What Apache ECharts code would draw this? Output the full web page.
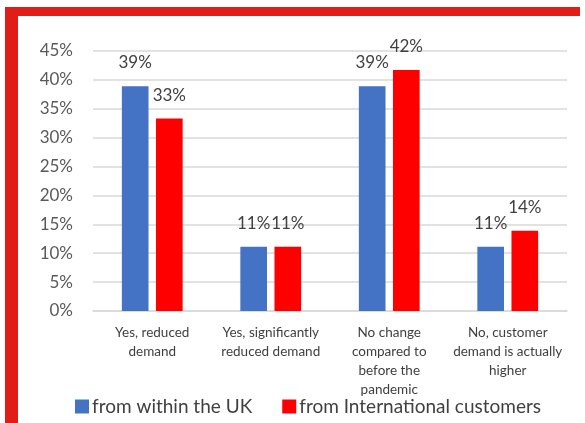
<!DOCTYPE html>
<html>
<head>
<meta charset="utf-8">
<script src="https://cdn.jsdelivr.net/npm/echarts@6/dist/echarts.min.js"></script>
<style>
  html, body { margin: 0; padding: 0; background: #fff; }
  #main { width: 585px; height: 423px; }
</style>
</head>
<body>
<div id="main"></div>
<script>
// data
var categories = [
  "Yes, reduced\ndemand",
  "Yes, significantly\nreduced demand",
  "No change\ncompared to\nbefore the\npandemic",
  "No, customer\ndemand is actually\nhigher"
];
var seriesNames = ["from within the UK", "from International customers"];
var ukValues = [38.9, 11.1, 38.9, 11.1];
var intlValues = [33.3, 11.1, 41.7, 13.9];
var yTicks = [0, 5, 10, 15, 20, 25, 30, 35, 40, 45];

var myChart = echarts.init(document.getElementById("main"));
var font = "Lato, 'Open Sans', sans-serif";

function barSeries(name, data, color) {
  return {
    name: name,
    type: "bar",
    data: data,
    barWidth: "22.5%",
    barGap: "28%",
    itemStyle: { color: color },
    label: {
      show: true,
      position: "top",
      distance: 15,
      fontFamily: font,
      fontSize: 17,
      color: "#404040",
      formatter: function (p) { return Math.round(p.value) + "%"; }
    }
  };
}

var option = {
  backgroundColor: "#ffffff",
  animation: false,
  graphic: [
    { type: "rect", shape: { x: 5, y: 7, width: 575, height: 9 }, style: { fill: "#e11d17" } },
    { type: "rect", shape: { x: 5, y: 7, width: 13, height: 416 }, style: { fill: "#e11d17" } }
  ],
  grid: { left: 93, right: 18, top: 51, bottom: 112 },
  legend: {
    data: seriesNames,
    top: 397,
    left: 75,
    padding: 0,
    itemWidth: 14,
    itemHeight: 14,
    itemGap: 30,
    icon: "rect",
    textStyle: { fontFamily: font, fontSize: 19, color: "#404040", padding: [0, 0, 0, -2] }
  },
  xAxis: {
    type: "category",
    data: categories,
    axisTick: { show: false },
    axisLine: { lineStyle: { color: "#d9d9d9", width: 1.5 } },
    axisLabel: {
      interval: 0,
      margin: 12,
      fontFamily: font,
      fontSize: 13.5,
      lineHeight: 19,
      color: "#404040"
    }
  },
  yAxis: {
    type: "value",
    min: yTicks[0],
    max: yTicks[yTicks.length - 1],
    interval: 5,
    axisLine: { show: false },
    axisTick: { show: false },
    splitLine: { lineStyle: { color: "#d9d9d9", width: 1.5 } },
    axisLabel: {
      margin: 20,
      fontFamily: font,
      fontSize: 17,
      color: "#595959",
      formatter: "{value}%"
    }
  },
  series: [
    barSeries(seriesNames[0], ukValues, "#4472c4"),
    barSeries(seriesNames[1], intlValues, "#ff0000")
  ]
};
myChart.setOption(option);
</script>
</body>
</html>
